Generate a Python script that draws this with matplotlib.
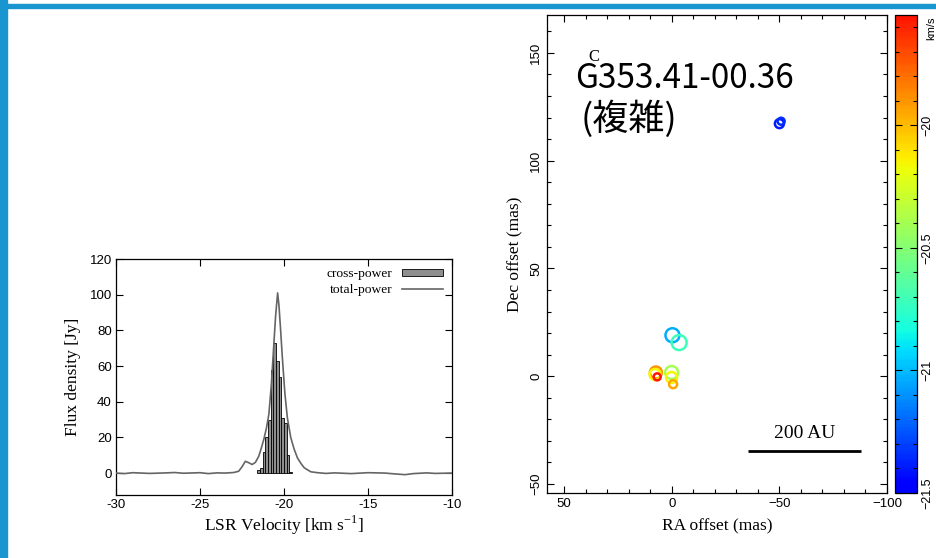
import matplotlib
matplotlib.use('Agg')
import matplotlib.pyplot as plt
import numpy as np
from matplotlib.colors import LinearSegmentedColormap, Normalize
from matplotlib.patches import Rectangle
from matplotlib.cm import ScalarMappable
from matplotlib.ticker import MultipleLocator

# ---------------- data ----------------
# total-power spectrum (velocity km/s, flux Jy)
tp_vel = [-30.0, -29.5, -29.0, -28.0, -27.0, -26.5, -26.0, -25.0, -24.5, -24.0,
          -23.5, -23.0, -22.7, -22.5, -22.3, -22.1, -21.9, -21.7, -21.5, -21.35,
          -21.2, -21.05, -20.9, -20.75, -20.6, -20.5, -20.38, -20.3, -20.2, -20.1,
          -19.95, -19.8, -19.6, -19.4, -19.2, -19.0, -18.8, -18.6, -18.4, -18.0,
          -17.5, -17.0, -16.0, -15.0, -14.0, -13.5, -12.8, -12.3, -11.5, -11.0, -10.0]
tp_flux = [0.0, -0.3, 0.2, -0.2, 0.1, 0.3, -0.1, 0.2, -0.3, 0.1,
           0.0, 0.3, 1.0, 3.5, 6.6, 5.8, 4.8, 6.0, 9.5, 14.0,
           19.0, 25.0, 33.0, 50.0, 73.0, 88.0, 101.0, 94.0, 80.0, 65.0,
           45.0, 31.0, 20.0, 13.5, 8.5, 5.5, 3.0, 1.8, 0.7, 0.2,
           -0.2, 0.1, -0.3, 0.2, 0.0, -0.4, -0.9, -0.3, 0.1, -0.2, 0.0]

# cross-power spectrum (channel centre velocity, flux)
cp_vel = [-21.50, -21.34, -21.19, -21.03, -20.87, -20.71, -20.55, -20.39,
          -20.24, -20.08, -19.92, -19.76, -19.60]
cp_flux = [1.9, 2.8, 11.6, 20.2, 29.6, 58.0, 73.0, 62.7, 54.0, 31.0, 28.0, 10.3, 0.5]
cp_width = 0.158

spec_xticks = [-30, -25, -20, -15, -10]
spec_xticklabels = ["-30", "-25", "-20", "-15", "-10"]
spec_yticks = [0, 20, 40, 60, 80, 100, 120]
spec_yticklabels = ["0", "20", "40", "60", "80", "100", "120"]

# maser spots
spot_ra = [-50.0, -50.8, -0.3, -3.4, 7.4, 7.8, 6.8, 0.1, 0.1, -0.6]
spot_dec = [117.2, 118.3, 19.0, 15.6, 1.7, 0.8, -0.3, 1.7, -0.6, -3.7]
spot_vel = [-21.40, -21.35, -21.03, -20.72, -19.90, -20.15, -19.57, -20.40, -20.15, -19.95]
spot_size = [9, 7, 14, 15, 12, 11, 7, 13, 11, 8]  # ring diameters (px)

map_xticks = [50, 0, -50, -100]
map_xticklabels = ["50", "0", "\u221250", "\u2212100"]
map_yticks = [-50, 0, 50, 100, 150]
map_yticklabels = ["\u221250", "0", "50", "100", "150"]

cb_ticks = [-21.5, -21.0, -20.5, -20.0]
cb_ticklabels = ["\u221221.5", "\u221221", "\u221220.5", "\u221220"]
vmin, vmax = -21.5, -19.55

scalebar_ra = [-35.6, -88.0]
scalebar_dec = [-34.7, -34.7]

# ---------------- figure ----------------
plt.rcParams['font.family'] = ['Liberation Sans', 'DejaVu Sans']
W, H = 936, 558
fig = plt.figure(figsize=(W / 100, H / 100), dpi=100)

def fx(px):
    return px / W

def fy(py):
    return 1 - py / H

blue = '#1996cf'
fig.patches.append(Rectangle((0, 0), 7 / W, 1, transform=fig.transFigure,
                             color=blue, zorder=0))
fig.patches.append(Rectangle((0, 1 - 7.5 / H), 1, 3.5 / H, transform=fig.transFigure,
                             color=blue, zorder=0))

serif = 'Liberation Serif'

# ----- left: spectrum -----
axL = fig.add_axes([fx(116), fy(495), 336 / W, 236 / H])
bars = axL.bar(cp_vel, cp_flux, width=cp_width, color='#8e8e8e', edgecolor='black',
               linewidth=0.6, label='cross-power', zorder=2)
line, = axL.plot(tp_vel, tp_flux, color='#656565', lw=1.2, label='total-power', zorder=3)
axL.set_xlim(-30, -10)
axL.set_ylim(-12.3, 120)
axL.set_xticks(spec_xticks)
axL.set_xticklabels(spec_xticklabels)
axL.set_yticks(spec_yticks)
axL.set_yticklabels(spec_yticklabels)
axL.tick_params(direction='in', top=True, right=True, length=5, width=0.8,
                labelsize=9.5, pad=3)
for s in axL.spines.values():
    s.set_linewidth(0.9)
axL.set_xlabel(r'LSR Velocity [km s$^{\mathregular{-1}}$]', family=serif,
               fontsize=12.5, labelpad=2)
axL.set_ylabel('Flux density [Jy]', family=serif, fontsize=12.5, labelpad=6)
leg = axL.legend([bars, line], ['cross-power', 'total-power'], loc='upper right',
                 frameon=False, markerfirst=False,
                 prop={'family': serif, 'size': 9.7}, handlelength=3.0,
                 handleheight=0.45, labelspacing=0.3, borderaxespad=0.3,
                 handletextpad=0.7)

# ----- right: spot map -----
colors = plt.cm.jet(np.linspace(0.11, 0.89, 256))
cmap = LinearSegmentedColormap.from_list('jet_trunc', colors)
norm = Normalize(vmin=vmin, vmax=vmax)

axR = fig.add_axes([fx(547), fy(493), 340 / W, 478 / H])
sizes = [(d * 0.72) ** 2 for d in spot_size]
axR.scatter(spot_ra, spot_dec, s=sizes, facecolors='none',
            edgecolors=cmap(norm(np.array(spot_vel))), linewidths=1.8, zorder=3)
axR.set_xlim(58, -100)
axR.set_ylim(-54.2, 167.6)
axR.set_xticks(map_xticks)
axR.set_xticklabels(map_xticklabels)
axR.set_yticks(map_yticks)
axR.set_yticklabels(map_yticklabels, rotation=90, va='center')
axR.xaxis.set_minor_locator(MultipleLocator(10))
axR.yaxis.set_minor_locator(MultipleLocator(10))
axR.tick_params(which='both', direction='in', top=True, right=True, width=0.8,
                labelsize=9.5)
axR.tick_params(which='major', length=5)
axR.tick_params(which='minor', length=3)
for s in axR.spines.values():
    s.set_linewidth(0.9)
axR.set_xlabel('RA offset (mas)', family=serif, fontsize=12.5, labelpad=6)
axR.set_ylabel('Dec offset (mas)', family=serif, fontsize=12.5, labelpad=5)

axR.plot(scalebar_ra, scalebar_dec, color='black', lw=2.0, solid_capstyle='butt')
axR.text(np.mean(scalebar_ra), scalebar_dec[0] + 4.2, '200 AU', family=serif,
         fontsize=14, ha='center', va='bottom')

fig.text(fx(594), fy(57), 'C', family=serif, fontsize=12, ha='center', va='center')
fig.text(fx(575), fy(88), 'G353.41-00.36', family=['Noto Sans CJK JP', 'DejaVu Sans'],
         fontsize=24, ha='left', va='baseline')
fig.text(fx(581), fy(130), '(複雑)', family=['Noto Sans CJK JP', 'DejaVu Sans'],
         fontsize=26, ha='left', va='baseline')

# ----- colorbar -----
cax = fig.add_axes([fx(895), fy(493), 22 / W, 478 / H])
cb = fig.colorbar(ScalarMappable(norm=norm, cmap=cmap), cax=cax)
cb.set_ticks(cb_ticks)
cb.set_ticklabels(cb_ticklabels)
cax.yaxis.set_minor_locator(MultipleLocator(0.1))
cax.tick_params(which='both', direction='in', left=True, right=True, width=0.8,
                labelsize=9, pad=3)
cax.tick_params(which='major', length=5)
cax.tick_params(which='minor', length=3)
for lab in cax.get_yticklabels():
    lab.set_rotation(90)
    lab.set_va('center')
cb.outline.set_linewidth(0.9)
fig.text(fx(931), fy(28), 'km/s', fontsize=8, rotation=90, ha='center', va='center')

fig.savefig('out.png', dpi=100)
